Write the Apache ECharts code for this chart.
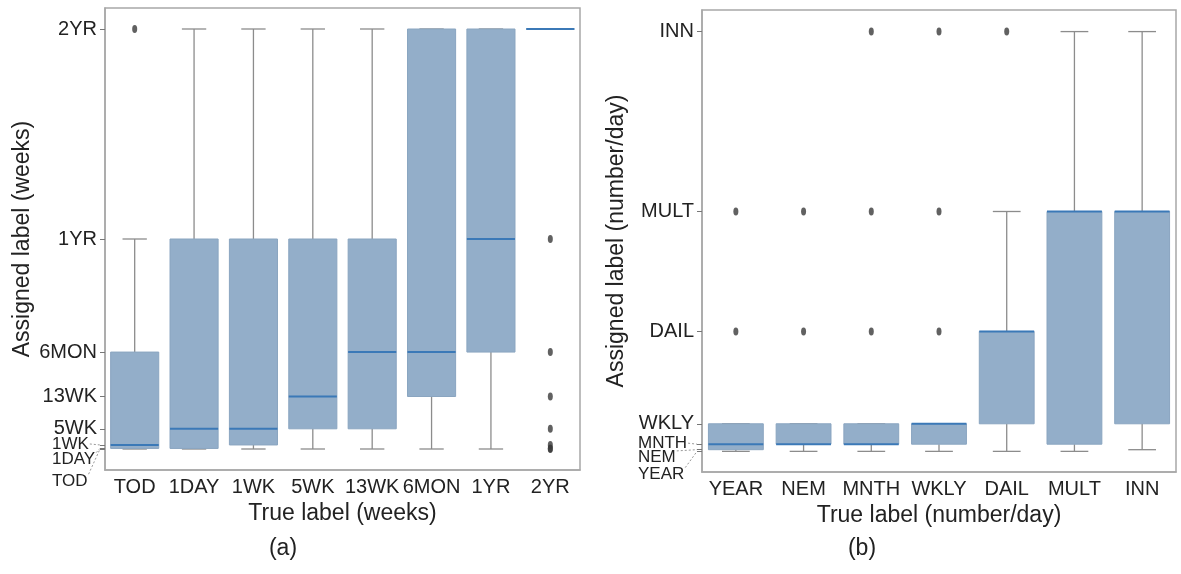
<!DOCTYPE html>
<html>
<head>
<meta charset="utf-8">
<title>Assigned vs true label box plots</title>
<script src="https://cdn.jsdelivr.net/npm/echarts@6/dist/echarts.min.js"></script>
<style>
  html, body { margin: 0; padding: 0; background: #fff; }
  #main { width: 1181px; height: 574px; }
</style>
</head>
<body>
<div id="main"></div>
<script>
// (a) weeks: label -> axis position in weeks
const weekCats = ['TOD', '1DAY', '1WK', '5WK', '13WK', '6MON', '1YR', '2YR'];
const weekPos = { TOD: 0, '1DAY': 1 / 7, '1WK': 1, '5WK': 5, '13WK': 13, '6MON': 24, '1YR': 52, '2YR': 104 };
// min, q1, median, q3, max  (one row per true label)
const weekBoxes = [
  ['TOD', '1DAY', '1WK', '6MON', '1YR'],
  ['TOD', '1DAY', '5WK', '1YR', '2YR'],
  ['TOD', '1WK', '5WK', '1YR', '2YR'],
  ['TOD', '5WK', '13WK', '1YR', '2YR'],
  ['TOD', '5WK', '6MON', '1YR', '2YR'],
  ['TOD', '13WK', '6MON', '2YR', '2YR'],
  ['TOD', '6MON', '1YR', '2YR', '2YR'],
  ['2YR', '2YR', '2YR', '2YR', '2YR']
];
const weekOutliers = [
  ['TOD', '2YR'],
  ['2YR', '1YR'], ['2YR', '6MON'], ['2YR', '13WK'], ['2YR', '5WK'],
  ['2YR', '1WK'], ['2YR', '1DAY'], ['2YR', 'TOD']
];

// (b) number/day
const rateCats = ['YEAR', 'NEM', 'MNTH', 'WKLY', 'DAIL', 'MULT', 'INN'];
const ratePos = { YEAR: 0, NEM: 0.014, MNTH: 0.06, WKLY: 0.23, DAIL: 1, MULT: 2, INN: 3.5 };
const rateBoxes = [
  ['YEAR', 'NEM', 'MNTH', 'WKLY', 'WKLY'],
  ['YEAR', 'MNTH', 'MNTH', 'WKLY', 'WKLY'],
  ['YEAR', 'MNTH', 'MNTH', 'WKLY', 'WKLY'],
  ['YEAR', 'MNTH', 'WKLY', 'WKLY', 'WKLY'],
  ['YEAR', 'WKLY', 'DAIL', 'DAIL', 'MULT'],
  ['YEAR', 'MNTH', 'MULT', 'MULT', 'INN'],
  ['NEM', 'WKLY', 'MULT', 'MULT', 'INN']
];
const rateOutliers = [
  ['YEAR', 'MULT'], ['YEAR', 'DAIL'],
  ['NEM', 'MULT'], ['NEM', 'DAIL'],
  ['MNTH', 'INN'], ['MNTH', 'MULT'], ['MNTH', 'DAIL'],
  ['WKLY', 'INN'], ['WKLY', 'MULT'], ['WKLY', 'DAIL'],
  ['DAIL', 'INN']
];

// labels squeezed at the bottom of each y axis, drawn apart with leader lines
const weekCrowded = ['1WK', '1DAY', 'TOD'];
const rateCrowded = ['MNTH', 'NEM', 'YEAR'];

const FONT = '"Liberation Sans", Arial, sans-serif';
const BOX_FILL = '#93aec9';
const MEDIAN = '#3b79b7';
const WHISKER = '#8c8c8c';
const FRAME = '#a8a8a8';

function boxData(cats, pos, boxes) {
  return boxes.map((b, i) => [i].concat(b.map(n => pos[n])));
}
function outlierData(cats, pos, list) {
  return list.map(o => [cats.indexOf(o[0]), pos[o[1]]]);
}

function renderBox(params, api) {
  const x = api.value(0);
  const lo = api.coord([x, api.value(1)]);
  const q1 = api.coord([x, api.value(2)]);
  const md = api.coord([x, api.value(3)]);
  const q3 = api.coord([x, api.value(4)]);
  const hi = api.coord([x, api.value(5)]);
  const band = api.size([1, 0])[0];
  const bw = band * 0.81, cw = band * 0.41;
  const cx = lo[0];
  const wStyle = { stroke: WHISKER, lineWidth: 1.3 };
  const kids = [];
  if (hi[1] < q3[1]) kids.push({ type: 'line', shape: { x1: cx, y1: hi[1], x2: cx, y2: q3[1] }, style: wStyle });
  if (lo[1] > q1[1]) kids.push({ type: 'line', shape: { x1: cx, y1: q1[1], x2: cx, y2: lo[1] }, style: wStyle });
  kids.push({ type: 'line', shape: { x1: cx - cw / 2, y1: hi[1], x2: cx + cw / 2, y2: hi[1] }, style: wStyle });
  kids.push({ type: 'line', shape: { x1: cx - cw / 2, y1: lo[1], x2: cx + cw / 2, y2: lo[1] }, style: wStyle });
  kids.push({
    type: 'rect',
    shape: { x: cx - bw / 2, y: q3[1], width: bw, height: q1[1] - q3[1] },
    style: { fill: BOX_FILL, stroke: '#8aa5c0', lineWidth: 1 }
  });
  kids.push({ type: 'line', shape: { x1: cx - bw / 2, y1: md[1], x2: cx + bw / 2, y2: md[1] }, style: { stroke: MEDIAN, lineWidth: 2 } });
  return { type: 'group', children: kids };
}

function xAxisFor(gridIndex, cats, name) {
  return {
    type: 'category', gridIndex: gridIndex, data: cats,
    axisLine: { onZero: false, lineStyle: { color: FRAME, width: 1.5 } },
    axisTick: { alignWithLabel: true, length: 5, lineStyle: { color: '#777' } },
    axisLabel: { interval: 0, fontSize: 20, color: '#222', margin: 7, fontFamily: FONT },
    name: name, nameLocation: 'middle', nameGap: 29,
    nameTextStyle: { fontSize: 23, color: '#222', fontFamily: FONT },
    splitLine: { show: false }
  };
}

function yAxisFor(gridIndex, cats, pos, crowded, min, max, name, gap) {
  const tickVals = cats.map(c => pos[c]);
  const labelVals = cats.filter(c => crowded.indexOf(c) < 0).map(c => pos[c]);
  return {
    type: 'value', gridIndex: gridIndex, min: min, max: max,
    axisLine: { show: true, onZero: false, lineStyle: { color: FRAME, width: 1.5 } },
    axisTick: { show: true, length: 5, customValues: tickVals, lineStyle: { color: '#777' } },
    axisLabel: {
      customValues: labelVals, fontSize: 20, color: '#222', margin: 8, fontFamily: FONT,
      formatter: v => cats.find(c => Math.abs(pos[c] - v) < 1e-6) || ''
    },
    splitLine: { show: false },
    name: name, nameLocation: 'middle', nameGap: gap,
    nameTextStyle: { fontSize: 23, color: '#222', fontFamily: FONT }
  };
}

const chart = echarts.init(document.getElementById('main'));

const option = {
  animation: false,
  backgroundColor: '#fff',
  grid: [
    { left: 105, right: 601, top: 8, bottom: 104, show: true, borderColor: FRAME, borderWidth: 1.5 },
    { left: 702, right: 5, top: 10, bottom: 102, show: true, borderColor: FRAME, borderWidth: 1.5 }
  ],
  xAxis: [
    xAxisFor(0, weekCats, 'True label (weeks)'),
    xAxisFor(1, rateCats, 'True label (number/day)')
  ],
  yAxis: [
    yAxisFor(0, weekCats, weekPos, weekCrowded, -5.2, 109.2, 'Assigned label (weeks)', 71),
    yAxisFor(1, rateCats, ratePos, rateCrowded, -0.172, 3.68, 'Assigned label (number/day)', 74)
  ],
  series: [
    {
      type: 'custom', xAxisIndex: 0, yAxisIndex: 0, renderItem: renderBox,
      encode: { x: 0, y: [1, 2, 3, 4, 5] }, data: boxData(weekCats, weekPos, weekBoxes)
    },
    {
      type: 'scatter', xAxisIndex: 0, yAxisIndex: 0, symbol: 'circle', symbolSize: [5, 8],
      itemStyle: { color: '#3a3a3a' }, data: outlierData(weekCats, weekPos, weekOutliers)
    },
    {
      type: 'custom', xAxisIndex: 1, yAxisIndex: 1, renderItem: renderBox,
      encode: { x: 0, y: [1, 2, 3, 4, 5] }, data: boxData(rateCats, ratePos, rateBoxes)
    },
    {
      type: 'scatter', xAxisIndex: 1, yAxisIndex: 1, symbol: 'circle', symbolSize: [5, 8],
      itemStyle: { color: '#3a3a3a' }, data: outlierData(rateCats, ratePos, rateOutliers)
    }
  ]
};
chart.setOption(option);

// crowded tick labels, spread downward and tied back to their ticks
const ctx = document.createElement('canvas').getContext('2d');
const extras = [];
function spreadLabels(yAxisIndex, names, pos, offsets, x0, xTick, size) {
  ctx.font = size + 'px ' + FONT;
  names.forEach((n, i) => {
    const ty = chart.convertToPixel({ yAxisIndex: yAxisIndex }, pos[n]);
    const ly = ty + offsets[i];
    const w = ctx.measureText(n).width;
    extras.push({
      type: 'text', x: x0, y: ly,
      style: { text: n, fontSize: size, fontFamily: FONT, fill: '#222', verticalAlign: 'middle', align: 'left' }
    });
    extras.push({
      type: 'line',
      shape: { x1: x0 + w + 1, y1: ly - (i === 0 ? 0 : size * 0.4), x2: xTick, y2: ty },
      style: { stroke: '#999', lineWidth: 1, lineDash: [2, 2] }
    });
  });
}
spreadLabels(0, weekCrowded, weekPos, [-1, 11, 32], 52, 100, 17);
spreadLabels(1, rateCrowded, ratePos, [-1, 8, 23], 638, 697, 17);

extras.push({ type: 'text', x: 283, y: 549, style: { text: '(a)', fontSize: 23, fontFamily: FONT, fill: '#222', align: 'center', verticalAlign: 'middle' } });
extras.push({ type: 'text', x: 862, y: 549, style: { text: '(b)', fontSize: 23, fontFamily: FONT, fill: '#222', align: 'center', verticalAlign: 'middle' } });

chart.setOption({ graphic: extras });
</script>
</body>
</html>
